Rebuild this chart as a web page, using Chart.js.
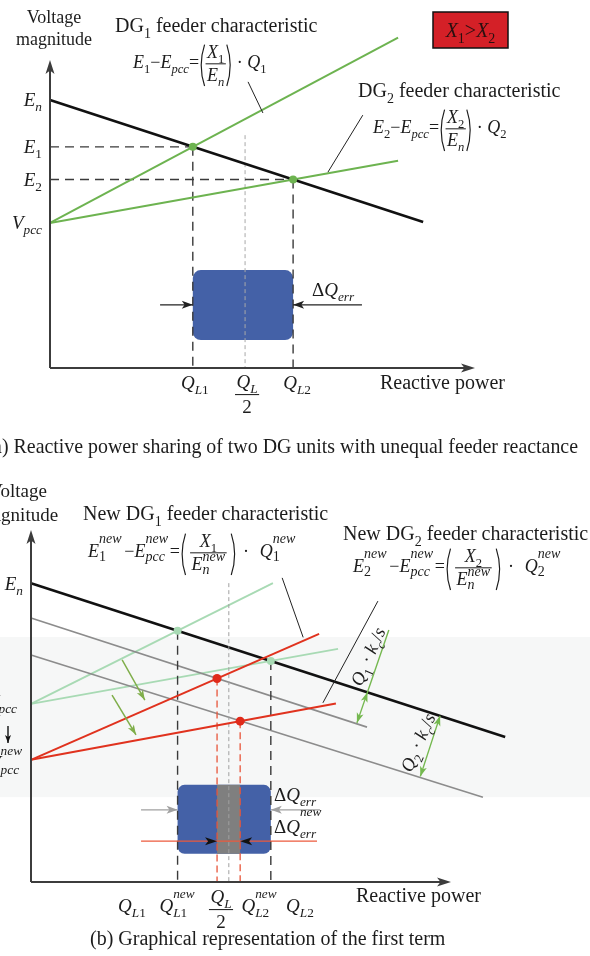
<!DOCTYPE html>
<html>
<head>
<meta charset="utf-8">
<script src="https://cdn.jsdelivr.net/npm/chart.js@4.4.1/dist/chart.umd.min.js"></script>
<style>
  body { margin: 0; background: #fff; }
  #wrap { position: relative; width: 590px; height: 956px; overflow: hidden; background: #fff; }
  canvas { position: absolute; left: 0; }
</style>
</head>
<body>
<div id="wrap">
  <canvas id="chartA" width="590" height="470" style="top:0"></canvas>
  <canvas id="chartB" width="590" height="486" style="top:470px"></canvas>
</div>
<script>
// Panel (a): reactive power Q (x) vs voltage magnitude V (y), arbitrary units
const aQLevels = [3.36, 4.59, 5.72];          // Q_L1, Q_L/2, Q_L2
const aVLevels = [8.70, 7.18, 6.12, 4.71];    // E_n, E_1, E_2, V_pcc
const aDroopQ = [0, 8.78];  const aDroopV = [8.70, 4.74];
const aDG1Q = [0, 8.19];    const aDG1V = [4.71, 10.73];
const aDG2Q = [0, 8.19];    const aDG2V = [4.71, 6.73];
const aHalfTop = 7.56;
const aErrBox = [3.36, 5.72, 0.91, 3.18];     // Q from, Q to, V from, V to
const aErrArrowQ = [2.59, 7.34];
const aErrArrowV = 2.05;
const aLeaders = [[[4.66, 9.29], [5.01, 8.28]], [[7.36, 8.21], [6.54, 6.36]]];
const aYTicks = ['E_n', 'E_1', 'E_2', 'V_{pcc}'];

// Panel (b)
const bQLevels = [3.49, 4.43, 4.71, 4.98, 5.71]; // Q_L1, Q_L1new, Q_L/2, Q_L2new, Q_L2
const bEn = 8.49;
const bVpcc = [5.06, 3.47];                      // old, new
const bDroopQ = [0, 11.29];   const bDroopV = [8.49, 4.12];
const bShift1Q = [0, 8.0];    const bShift1V = [7.50, 4.40];
const bShift2Q = [0, 10.76];  const bShift2V = [6.45, 2.41];
const bOldDG1Q = [0, 5.76];   const bOldDG1V = [5.06, 8.49];
const bOldDG2Q = [0, 7.31];   const bOldDG2V = [5.06, 6.62];
const bNewDG1Q = [0, 6.86];   const bNewDG1V = [3.47, 7.05];
const bNewDG2Q = [0, 7.26];   const bNewDG2V = [3.47, 5.07];
const bOldCross = [[3.49, 7.14], [5.71, 6.28]];
const bNewCross = [[4.43, 5.78], [4.98, 4.57]];
const bErrBox = [3.49, 5.71, 0.80, 2.76];
const bNewErrBox = [4.43, 4.98, 0.80, 2.76];
const bErrArrowQ = [2.62, 6.88];  const bErrArrowV = 2.05;
const bNewErrQ = [2.62, 6.81];    const bNewErrV = 1.16;
const bShiftArrows = [[[2.17, 6.31], [2.71, 5.17]], [[1.93, 5.31], [2.50, 4.18]]];
const bDimQ1 = [[8.52, 7.16], [8.01, 5.39], [7.76, 4.52]];
const bDimQ2 = [[9.74, 4.72], [9.27, 3.00]];
const bLeaders = [[[5.98, 8.64], [6.48, 6.95]], [[8.26, 7.98], [6.95, 5.09]]];
const bXTicks = ['Q_{L1}', 'Q_{L1}^{new}', 'Q_L/2', 'Q_{L2}^{new}', 'Q_{L2}'];

const SERIF = '"Liberation Serif", "Times New Roman", serif';
const INK = '#1c1c1c';

// --- tiny math text renderer ---
function R(t) { return { t }; }
function sub(t, it) { return { t, i: !!it, s: 0.7, dy: 0.28 }; }
function gap(em) { return { g: em }; }
function frac(num, den) { return { frac: [num, den] }; }
function paren(c) { return { paren: c }; }

// mini TeX: letters italic, _x / _{..} sub, ^{..} sup, both -> stacked
function tex(str, o) {
  o = Object.assign({ up: -0.6, down: 0.28, sc: 0.7 }, o || {});
  const out = [];
  let k = 0;
  const group = () => {
    if (str[k] === '{') { const e = str.indexOf('}', k); const g = str.slice(k + 1, e); k = e + 1; return g; }
    return str[k++];
  };
  const chars = (g, s, dy) => g.split('').map(c => ({ t: c, i: /[A-Za-z]/.test(c), s, dy }));
  while (k < str.length) {
    const c = str[k];
    if (c === '_' || c === '^') {
      k++;
      let subG = null, supG = null;
      if (c === '_') subG = group(); else supG = group();
      if (str[k] === '^' || str[k] === '_') {
        const c2 = str[k]; k++;
        if (c2 === '^') supG = group(); else subG = group();
      }
      if (subG && supG) out.push({ stack: [chars(supG, 1, 0), chars(subG, 1, 0)], up: o.up, down: o.down, sc: o.sc });
      else if (subG) out.push(...chars(subG, 0.7, 0.28));
      else out.push(...chars(supG, o.sc, o.up));
    } else {
      out.push({ t: c, i: /[A-Za-z]/.test(c) });
      k++;
    }
  }
  return out;
}

function mathRun(ctx, items, x, y, size, draw) {
  let cx = x;
  for (const it of items) {
    if (it.g != null) {
      cx += it.g * size;
    } else if (it.frac) {
      const wn = mathRun(ctx, it.frac[0], 0, 0, size, false);
      const wd = mathRun(ctx, it.frac[1], 0, 0, size, false);
      const w = Math.max(wn, wd) + 3;
      if (draw) {
        mathRun(ctx, it.frac[0], cx + (w - wn) / 2, y - 0.58 * size, size, true);
        mathRun(ctx, it.frac[1], cx + (w - wd) / 2, y + 0.72 * size, size, true);
        ctx.fillRect(cx, y - 0.26 * size, w, Math.max(1, size * 0.055));
      }
      cx += w;
    } else if (it.stack) {
      const s = size * it.sc;
      const w1 = mathRun(ctx, it.stack[0], 0, 0, s, false);
      const w2 = mathRun(ctx, it.stack[1], 0, 0, s, false);
      if (draw) {
        mathRun(ctx, it.stack[0], cx, y + it.up * size, s, true);
        mathRun(ctx, it.stack[1], cx, y + it.down * size, s, true);
      }
      cx += Math.max(w1, w2);
    } else if (it.paren) {
      const w = size * 0.36;
      if (draw) {
        const top = y - 1.3 * size, bot = y + 1.0 * size;
        ctx.save();
        ctx.strokeStyle = ctx.fillStyle;
        ctx.lineWidth = Math.max(1, size * 0.065);
        ctx.beginPath();
        if (it.paren === '(') { ctx.moveTo(cx + w * 0.85, top); ctx.quadraticCurveTo(cx - w * 0.2, (top + bot) / 2, cx + w * 0.85, bot); }
        else { ctx.moveTo(cx + w * 0.15, top); ctx.quadraticCurveTo(cx + w * 1.2, (top + bot) / 2, cx + w * 0.15, bot); }
        ctx.stroke();
        ctx.restore();
      }
      cx += w;
    } else {
      const s = size * (it.s || 1);
      ctx.font = (it.i ? 'italic ' : '') + s + 'px ' + SERIF;
      if (draw) ctx.fillText(it.t, cx, y + (it.dy || 0) * size);
      cx += ctx.measureText(it.t).width;
    }
  }
  return cx - x;
}

function drawMath(ctx, items, x, y, size, align, color) {
  ctx.save();
  ctx.fillStyle = color || INK;
  ctx.textAlign = 'left';
  ctx.textBaseline = 'alphabetic';
  const w = mathRun(ctx, items, 0, 0, size, false);
  const x0 = align === 'center' ? x - w / 2 : align === 'right' ? x - w : x;
  mathRun(ctx, items, x0, y, size, true);
  ctx.restore();
  return w;
}

function drawText(ctx, text, x, y, size, align, italic) {
  ctx.save();
  ctx.fillStyle = INK;
  ctx.font = (italic ? 'italic ' : '') + size + 'px ' + SERIF;
  ctx.textAlign = align || 'left';
  ctx.textBaseline = 'alphabetic';
  ctx.fillText(text, x, y);
  ctx.restore();
}

// --- drawing helpers working in data units via the chart scales ---
function px(chart, q, v) {
  return [chart.scales.x.getPixelForValue(q), chart.scales.y.getPixelForValue(v)];
}

function head(ctx, x, y, ang, len, half, color) {
  ctx.save();
  ctx.fillStyle = color;
  ctx.translate(x, y);
  ctx.rotate(ang);
  ctx.beginPath();
  ctx.moveTo(0, 0);
  ctx.lineTo(-len, -half);
  ctx.lineTo(-len * 0.75, 0);
  ctx.lineTo(-len, half);
  ctx.closePath();
  ctx.fill();
  ctx.restore();
}

function seg(ctx, a, b, color, width) {
  ctx.save();
  ctx.strokeStyle = color;
  ctx.lineWidth = width;
  ctx.beginPath();
  ctx.moveTo(a[0], a[1]);
  ctx.lineTo(b[0], b[1]);
  ctx.stroke();
  ctx.restore();
}

function arrow(ctx, a, b, color, width, len, half, headColor) {
  seg(ctx, a, b, color, width);
  head(ctx, b[0], b[1], Math.atan2(b[1] - a[1], b[0] - a[0]), len, half, headColor || color);
}

function box(ctx, chart, spec, color, radius) {
  const p0 = px(chart, spec[0], spec[3]);
  const p1 = px(chart, spec[1], spec[2]);
  ctx.save();
  ctx.fillStyle = color;
  ctx.beginPath();
  ctx.roundRect(p0[0], p0[1], p1[0] - p0[0], p1[1] - p0[1], radius);
  ctx.fill();
  ctx.restore();
}

function axes(ctx, chart) {
  const a = chart.chartArea;
  const o = px(chart, 0, 0);
  ctx.save();
  ctx.strokeStyle = '#3c3c3c';
  ctx.lineWidth = 2;
  ctx.beginPath();
  ctx.moveTo(o[0], o[1]); ctx.lineTo(o[0], a.top + 6);
  ctx.moveTo(o[0], o[1]); ctx.lineTo(a.right - 6, o[1]);
  ctx.stroke();
  ctx.restore();
  head(ctx, o[0], a.top, -Math.PI / 2, 14, 4.5, '#3c3c3c');
  head(ctx, a.right, o[1], 0, 14, 4.5, '#3c3c3c');
}

function lineDs(qs, vs, color, width, dash) {
  return {
    data: qs.map((q, k) => ({ x: q, y: vs[k] })),
    borderColor: color, borderWidth: width, borderDash: dash || [],
    pointRadius: 0, showLine: true, fill: false, tension: 0, clip: false
  };
}

function dotDs(points, color, r) {
  return {
    data: points.map(p => ({ x: p[0], y: p[1] })),
    pointRadius: r, pointBackgroundColor: color, pointBorderWidth: 0,
    showLine: false, clip: false
  };
}

function baseOptions(pad) {
  return {
    responsive: false, animation: false, devicePixelRatio: 1, events: [],
    layout: { padding: pad },
    plugins: { legend: { display: false }, tooltip: { enabled: false } },
    scales: {
      x: { type: 'linear', min: 0, max: 10, display: false },
      y: { type: 'linear', min: 0, max: 10, display: false }
    }
  };
}

const GREEN = '#6db350';
const MINT = '#a8dab4';
const RED = '#e0321e';
const GREY = '#8c8c8c';
const DASH = '#3a3a3a';

// ---------------- chart (a) ----------------
const [aQL1, aQhalf, aQL2] = aQLevels;
const [aEn, aE1, aE2, aVpcc] = aVLevels;

const panelA = {
  id: 'panelA',
  beforeDatasetsDraw(chart) {
    box(chart.ctx, chart, aErrBox, '#4461a7', 8);
  },
  afterDatasetsDraw(chart) {
    const ctx = chart.ctx;
    axes(ctx, chart);
    // delta Q_err arrows
    arrow(ctx, px(chart, aErrArrowQ[0], aErrArrowV), px(chart, aErrBox[0], aErrArrowV), '#222', 1.4, 11, 4);
    arrow(ctx, px(chart, aErrArrowQ[1], aErrArrowV), px(chart, aErrBox[1], aErrArrowV), '#222', 1.4, 11, 4);
    aLeaders.forEach(l => seg(ctx, px(chart, l[0][0], l[0][1]), px(chart, l[1][0], l[1][1]), '#222', 1));

    // y tick labels
    const x0 = chart.scales.x.getPixelForValue(0);
    aYTicks.forEach((t, k) => {
      const y = chart.scales.y.getPixelForValue(aVLevels[k]);
      drawMath(ctx, tex(t), x0 - 8, y + 6, 19, 'right');
    });
    // x tick labels
    const yb = chart.scales.y.getPixelForValue(0) + 21;
    drawMath(ctx, tex('Q_{L1}'), chart.scales.x.getPixelForValue(aQL1) + 2, yb, 19, 'center');
    drawMath(ctx, [frac(tex('Q_L'), tex('2'))], chart.scales.x.getPixelForValue(aQhalf) + 2, yb + 10, 19, 'center');
    drawMath(ctx, tex('Q_{L2}'), chart.scales.x.getPixelForValue(aQL2) + 4, yb, 19, 'center');
    drawText(ctx, 'Reactive power', 380, yb, 20);

    drawText(ctx, 'Voltage', 54, 23, 18, 'center');
    drawText(ctx, 'magnitude', 54, 45, 18, 'center');

    drawMath(ctx, [R('DG'), sub('1'), R(' feeder characteristic')], 115, 32, 20);
    drawMath(ctx, [...tex('E_1−E_{pcc}='), paren('('), frac(tex('X_1'), tex('E_n')), paren(')'), ...tex(' · Q_1')], 133, 68, 18);
    drawMath(ctx, [R('DG'), sub('2'), R(' feeder characteristic')], 358, 97, 20);
    drawMath(ctx, [...tex('E_2−E_{pcc}='), paren('('), frac(tex('X_2'), tex('E_n')), paren(')'), ...tex(' · Q_2')], 373, 133, 18);

    drawMath(ctx, tex('ΔQ_{err}'), 312, 296, 19);

    // X1 > X2 tag
    ctx.save();
    ctx.fillStyle = '#d42027';
    ctx.strokeStyle = '#111';
    ctx.lineWidth = 1.5;
    ctx.fillRect(433, 12, 75, 36);
    ctx.strokeRect(433, 12, 75, 36);
    ctx.restore();
    drawMath(ctx, tex('X_1>X_2'), 470.5, 37, 20, 'center', '#2a1010');

    const cap = '(a) Reactive power sharing of two DG units with unequal feeder reactance';
    drawText(ctx, cap, 578, 453, 19.9, 'right');
  }
};

new Chart(document.getElementById('chartA'), {
  type: 'scatter',
  data: {
    datasets: [
      dotDs([[aQL1, aE1], [aQL2, aE2]], GREEN, 4),
      lineDs(aDroopQ, aDroopV, '#111', 2.6),
      lineDs(aDG1Q, aDG1V, GREEN, 2),
      lineDs(aDG2Q, aDG2V, GREEN, 2),
      lineDs([0, aQL1], [aE1, aE1], DASH, 1.4, [9, 6]),
      lineDs([0, aQL2], [aE2, aE2], DASH, 1.4, [9, 6]),
      lineDs([aQL1, aQL1], [aE1, 0], DASH, 1.4, [9, 6]),
      lineDs([aQL2, aQL2], [aE2, 0], DASH, 1.4, [9, 6]),
      lineDs([aQhalf, aQhalf], [aHalfTop, 0], '#a8a8a8', 1, [4, 3])
    ]
  },
  options: baseOptions({ left: 50, top: 60, right: 115, bottom: 102 }),
  plugins: [panelA]
});

// ---------------- chart (b) ----------------
const [bQL1, bQL1n, bQhalf, bQL2n, bQL2] = bQLevels;
const NEWF = { up: -0.8, down: 0.2, sc: 0.78 };   // style of "new" superscripts in formulas
const NEWD = { up: -0.52, down: 0.2, sc: 0.78 };  // same inside a denominator

function newFormula(n) {
  return [
    ...tex('E_' + n + '^{new}', NEWF), gap(0.15), R('−'), ...tex('E_{pcc}^{new}', NEWF), gap(0.1), R('='),
    paren('('), gap(0.2), frac(tex('X_' + n), tex('E_n^{new}', NEWD)), gap(0.2), paren(')'),
    gap(0.35), R('·'), gap(0.6), ...tex('Q_' + n + '^{new}', NEWF)
  ];
}

const panelB = {
  id: 'panelB',
  beforeDraw(chart) {
    // faint background band of the scanned figure
    const ctx = chart.ctx;
    const y0 = chart.scales.y.getPixelForValue(6.96);
    const y1 = chart.scales.y.getPixelForValue(2.41);
    ctx.save();
    ctx.fillStyle = '#f6f7f7';
    ctx.fillRect(0, y0, chart.width, y1 - y0);
    ctx.restore();
  },
  beforeDatasetsDraw(chart) {
    box(chart.ctx, chart, bErrBox, '#4461a7', 7);
    box(chart.ctx, chart, bNewErrBox, '#7f7f7f', 0);
  },
  afterDatasetsDraw(chart) {
    const ctx = chart.ctx;
    axes(ctx, chart);

    arrow(ctx, px(chart, bErrArrowQ[0], bErrArrowV), px(chart, bErrBox[0], bErrArrowV), '#a0a0a0', 1.4, 11, 4);
    arrow(ctx, px(chart, bErrArrowQ[1], bErrArrowV), px(chart, bErrBox[1], bErrArrowV), '#a0a0a0', 1.4, 11, 4);
    head(ctx, ...px(chart, bNewErrBox[0], bNewErrV), 0, 12, 4, '#111');
    head(ctx, ...px(chart, bNewErrBox[1], bNewErrV), Math.PI, 12, 4, '#111');

    bShiftArrows.forEach(a => arrow(ctx, px(chart, a[0][0], a[0][1]), px(chart, a[1][0], a[1][1]), '#7fae4a', 1.5, 10, 3.5));

    // dimension arrows Q·kc/s
    const d1 = bDimQ1.map(p => px(chart, p[0], p[1]));
    seg(ctx, d1[0], d1[2], '#74b84f', 1.4);
    head(ctx, d1[1][0], d1[1][1], Math.atan2(d1[1][1] - d1[2][1], d1[1][0] - d1[2][0]), 10, 3.5, '#74b84f');
    head(ctx, d1[2][0], d1[2][1], Math.atan2(d1[2][1] - d1[1][1], d1[2][0] - d1[1][0]), 10, 3.5, '#74b84f');
    const d2 = bDimQ2.map(p => px(chart, p[0], p[1]));
    seg(ctx, d2[0], d2[1], '#74b84f', 1.4);
    head(ctx, d2[0][0], d2[0][1], Math.atan2(d2[0][1] - d2[1][1], d2[0][0] - d2[1][0]), 10, 3.5, '#74b84f');
    head(ctx, d2[1][0], d2[1][1], Math.atan2(d2[1][1] - d2[0][1], d2[1][0] - d2[0][0]), 10, 3.5, '#74b84f');
    const ang = Math.atan2(d1[0][1] - d1[2][1], d1[0][0] - d1[2][0]) + 0.08;
    [[tex('Q_1 · k_c/s'), 369, 187], [tex('Q_2 · k_c/s'), 419, 273]].forEach(([items, cx, cy]) => {
      ctx.save();
      ctx.translate(cx, cy);
      ctx.rotate(ang);
      drawMath(ctx, items, 0, 5, 18.5, 'center');
      ctx.restore();
    });

    bLeaders.forEach(l => seg(ctx, px(chart, l[0][0], l[0][1]), px(chart, l[1][0], l[1][1]), '#222', 1));

    // y labels
    const x0 = chart.scales.x.getPixelForValue(0);
    const yEn = chart.scales.y.getPixelForValue(bEn);
    drawMath(ctx, tex('E_n'), x0 - 8, yEn + 7, 19, 'right');
    const yOld = chart.scales.y.getPixelForValue(bVpcc[0]);
    const yNew = chart.scales.y.getPixelForValue(bVpcc[1]);
    drawMath(ctx, tex('V_{pcc}'), x0 - 14, yOld + 4, 19, 'right');
    drawMath(ctx, tex('V_{pcc}^{new}', { up: -0.72, down: 0.28, sc: 0.7 }), x0 - 9, yNew + 9, 19, 'right');
    arrow(ctx, [x0 - 23, yOld + 22], [x0 - 23, yOld + 39], '#111', 1.4, 8, 3);

    // x tick labels
    const yb = chart.scales.y.getPixelForValue(0) + 30;
    const tickCenters = [132, 177, 221, 259, 300];
    bXTicks.forEach((t, k) => {
      if (t === 'Q_L/2') drawMath(ctx, [frac(tex('Q_L'), tex('2'))], tickCenters[k], yb + 2, 19, 'center');
      else drawMath(ctx, tex(t, { up: -0.72, down: 0.28, sc: 0.7 }), tickCenters[k], yb, 19, 'center');
    });
    drawText(ctx, 'Reactive power', 356, yb - 10, 20);

    drawText(ctx, 'Voltage', 18, 27, 19, 'center');
    drawText(ctx, 'magnitude', 18, 51, 19, 'center');

    drawMath(ctx, [R('New DG'), sub('1'), R(' feeder characteristic')], 83, 50, 20);
    drawMath(ctx, newFormula('1'), 88, 87, 18);
    drawMath(ctx, [R('New DG'), sub('2'), R(' feeder characteristic')], 343, 70, 20);
    drawMath(ctx, newFormula('2'), 353, 102, 18);

    drawMath(ctx, tex('ΔQ_{err}'), 274, 331, 19);
    drawMath(ctx, tex('ΔQ_{err}^{new}', { up: -0.88, down: 0.28, sc: 0.7 }), 274, 363, 19);

    drawText(ctx, '(b) Graphical representation of the first term', 90, 475, 20);
  }
};

new Chart(document.getElementById('chartB'), {
  type: 'scatter',
  data: {
    datasets: [
      dotDs(bNewCross, '#e02a1a', 4.5),
      dotDs(bOldCross, MINT, 4),
      lineDs(bNewDG1Q, bNewDG1V, RED, 2),
      lineDs(bNewDG2Q, bNewDG2V, RED, 2),
      lineDs(bNewErrQ, [bNewErrV, bNewErrV], '#ec5a3c', 1.3),
      lineDs([bQL1n, bQL1n], [bNewCross[0][1], 0], '#e8553a', 1.3, [7, 4]),
      lineDs([bQL2n, bQL2n], [bNewCross[1][1], 0], '#e8553a', 1.3, [7, 4]),
      lineDs([bQL1, bQL1], [bOldCross[0][1], 0], DASH, 1.4, [9, 6]),
      lineDs([bQL2, bQL2], [bOldCross[1][1], 0], DASH, 1.4, [9, 6]),
      lineDs([bQhalf, bQhalf], [bEn, 0], '#a0a0a0', 1, [4, 3]),
      lineDs(bDroopQ, bDroopV, '#111', 2.6),
      lineDs(bShift1Q, bShift1V, GREY, 1.6),
      lineDs(bShift2Q, bShift2V, GREY, 1.6),
      lineDs(bOldDG1Q, bOldDG1V, MINT, 1.8),
      lineDs(bOldDG2Q, bOldDG2V, MINT, 1.8)
    ]
  },
  options: baseOptions({ left: 31, top: 60, right: 139, bottom: 74 }),
  plugins: [panelB]
});
</script>
</body>
</html>
